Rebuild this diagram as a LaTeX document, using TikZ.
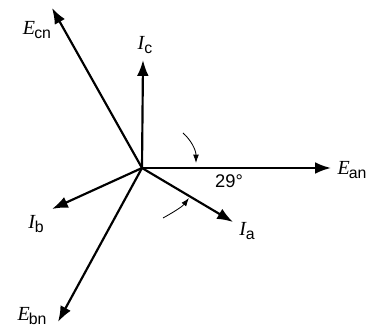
\documentclass[tikz,border=0pt]{standalone}
\usepackage{fontspec}
\setmainfont{Liberation Serif}
\newfontfamily\subsans{Liberation Sans}
\usetikzlibrary{arrows.meta}
\newcommand{\Lbl}[2]{\textit{#1}\kern-0.5pt\raisebox{-0.35ex}{\subsans\fontsize{9.5}{10}\selectfont #2}}
\begin{document}
\begin{tikzpicture}[x=0.6pt,y=-0.6pt,
  vec/.style={line width=1.3pt,-{Latex[length=9.5pt,width=7pt]}},
  ang/.style={line width=0.5pt,-{Latex[length=5pt,width=3.5pt]}},
  lbl/.style={inner sep=0pt,font=\fontsize{12}{14}\selectfont}]
\useasboundingbox (0,0) rectangle (370,329);
\coordinate (O) at (142,168);
\coordinate (ean) at (331,168);
\coordinate (ecn) at (52,8);
\coordinate (ebn) at (58,322);
\coordinate (ic) at (143,60);
\coordinate (ia) at (233,222);
\coordinate (ib) at (52,209);
\draw[vec] (O) -- (ean);
\draw[vec] (O) -- (ecn);
\draw[vec] (O) -- (ebn);
\draw[vec] (O) -- (ic);
\draw[vec] (O) -- (ia);
\draw[vec] (O) -- (ib);
\node[lbl] (Lean) at (352,170) {\Lbl{E}{an}};
\node[lbl] (Lecn) at (37,30) {\Lbl{E}{cn}};
\node[lbl] (Lebn) at (32,316) {\Lbl{E}{bn}};
\node[lbl] (Lic) at (145,45) {\Lbl{I}{c}};
\node[lbl] (Lia) at (247,231) {\Lbl{I}{a}};
\node[lbl] (Lib) at (36,224) {\Lbl{I}{b}};
\node[lbl,font=\subsans\fontsize{11}{13}\selectfont] (deg) at (229,181) {29°};
\coordinate (a1s) at (183,133);
\coordinate (a1e) at (196,163);
\draw[ang] (a1s) .. controls (191,140) and (196,150) .. (a1e);
\coordinate (a2s) at (163,218);
\coordinate (a2e) at (189,198);
\draw[ang] (a2s) .. controls (172,213) and (182,207) .. (a2e);
\end{tikzpicture}
\end{document}
